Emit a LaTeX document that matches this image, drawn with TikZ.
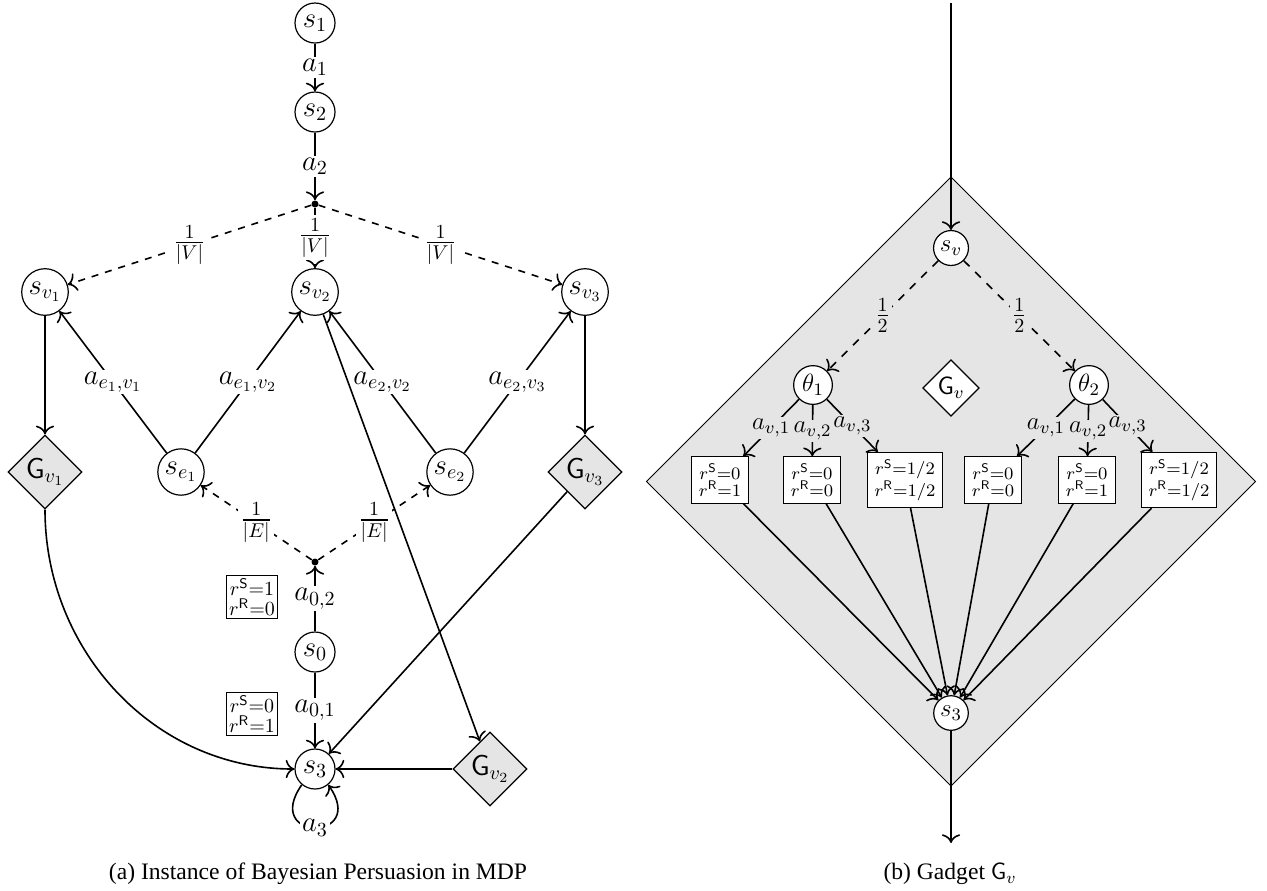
\RequirePackage{fix-cm}
\documentclass[tikz,border=0pt]{standalone}
\usepackage{amsmath}
\usepackage{fontspec}
\newfontfamily\capfont{Liberation Serif}
\usetikzlibrary{shapes.geometric,arrows.meta}
\tikzset{
  >={To[scale=1.3]},
  lst/.style={circle, draw, semithick, fill=white, inner sep=1.5pt, minimum size=20pt},
  rst/.style={circle, draw, semithick, fill=white, inner sep=1.5pt, minimum size=17pt},
  dotn/.style={circle, fill=black, inner sep=0pt, minimum size=3.5pt},
  gad/.style={diamond, aspect=1, draw, semithick, fill=gray!20, inner sep=1pt, minimum size=36pt},
  gsm/.style={diamond, aspect=1, draw, semithick, fill=white, inner sep=1pt, minimum size=24pt},
  lbox/.style={rectangle, draw, semithick, fill=white, inner sep=1.5pt},
  rbox/.style={rectangle, draw, semithick, fill=white, inner sep=3.5pt},
  le/.style={->, thick},
  re/.style={->, thick},
  ldash/.style={dash pattern=on 3.5pt off 3.5pt},
  rdash/.style={dash pattern=on 4pt off 4pt},
  lab/.style={fill=white, inner sep=1pt},
  rlab/.style={fill=gray!20, inner sep=1pt},
  capt/.style={font=\capfont\fontsize{11.8}{14}\selectfont, inner sep=0pt}
}
\begin{document}
\begin{tikzpicture}[x=0.5pt, y=-0.5pt]
\useasboundingbox (0,0) rectangle (1267,890);

% ---------------- (a) ----------------
\begin{scope}[font=\fontsize{14.4}{17}\selectfont]
\node[lst] (s1) at (315,23) {$s_1$};
\node[lst] (s2) at (315,112) {$s_2$};
\node[dotn] (d1) at (315,204) {};
\node[lst] (sv1) at (45,292) {$s_{v_1}$};
\node[lst] (sv2) at (315,292) {$s_{v_2}$};
\node[lst] (sv3) at (585,292) {$s_{v_3}$};
\node[lst] (se1) at (181,472) {$s_{e_1}$};
\node[lst] (se2) at (450,472) {$s_{e_2}$};
\node[gad] (G1) at (45,472) {$\mathsf{G}_{v_1}$};
\node[gad] (G3) at (585,472) {$\mathsf{G}_{v_3}$};
\node[dotn] (d2) at (315,562) {};
\node[lst] (s0) at (315,652) {$s_0$};
\node[lst] (s3) at (315,769) {$s_3$};
\node[gad] (G2) at (490,769) {$\mathsf{G}_{v_2}$};
\node[lbox] (b1) at (252,597) {$\substack{r^{\mathsf{S}}=1\\ r^{\mathsf{R}}=0}$};
\node[lbox] (b2) at (252,714) {$\substack{r^{\mathsf{S}}=0\\ r^{\mathsf{R}}=1}$};

\draw[le] (s1) -- node[lab]{$a_1$} (s2);
\draw[le] (s2) -- node[lab]{$a_2$} (d1);
\draw[le,ldash] (d1) -- node[lab]{$\frac{1}{|V|}$} (sv1);
\draw[le,ldash] (d1) -- node[lab]{$\frac{1}{|V|}$} (sv2);
\draw[le,ldash] (d1) -- node[lab]{$\frac{1}{|V|}$} (sv3);
\draw[le] (se1) -- node[lab]{$a_{e_1,v_1}$} (sv1);
\draw[le] (se1) -- node[lab]{$a_{e_1,v_2}$} (sv2);
\draw[le] (se2) -- node[lab]{$a_{e_2,v_2}$} (sv2);
\draw[le] (se2) -- node[lab]{$a_{e_2,v_3}$} (sv3);
\draw[le] (sv1) -- (G1);
\draw[le] (sv3) -- (G3);
\draw[le,ldash] (d2) -- node[lab]{$\frac{1}{|E|}$} (se1);
\draw[le,ldash] (d2) -- node[lab]{$\frac{1}{|E|}$} (se2);
\draw[le] (s0) -- node[lab]{$a_{0,2}$} (d2);
\draw[le] (s0) -- node[lab]{$a_{0,1}$} (s3);
\draw[le] (G1) to[out=-90,in=180] (s3);
\draw[le] (G3) -- (s3);
\draw[le] (G2) -- (s3);
\draw[le] (sv2) -- (G2);
\draw[le] (s3.-130) .. controls +(-125:35pt) and +(-55:35pt) .. node[lab]{$a_3$} (s3.-50);
\end{scope}

% ---------------- (b) ----------------
\fill[gray!20] (951,177) -- (1255.5,481.5) -- (951,786) -- (646.5,481.5) -- cycle;
\draw[line width=0.5pt] (951,177) -- (1255.5,481.5) -- (951,786) -- (646.5,481.5) -- cycle;
\begin{scope}[font=\fontsize{12.5}{15}\selectfont]
\coordinate (gin) at (951,3);
\coordinate (gout) at (951,843);
\node[rst] (sv) at (951,248) {$s_v$};
\node[rst] (t1) at (813,385) {$\theta_1$};
\node[rst] (t2) at (1089,385) {$\theta_2$};
\node[gsm] (Gv) at (951,388) {$\mathsf{G}_v$};
\node[rst] (g3) at (951,713) {$s_3$};
\node[rbox] (r1) at (720,480) {$\substack{r^{\mathsf{S}}=0\\ r^{\mathsf{R}}=1}$};
\node[rbox] (r2) at (812,480) {$\substack{r^{\mathsf{S}}=0\\ r^{\mathsf{R}}=0}$};
\node[rbox] (r3) at (905,480) {$\substack{r^{\mathsf{S}}=1/2\\ r^{\mathsf{R}}=1/2}$};
\node[rbox] (r4) at (993,480) {$\substack{r^{\mathsf{S}}=0\\ r^{\mathsf{R}}=0}$};
\node[rbox] (r5) at (1087,480) {$\substack{r^{\mathsf{S}}=0\\ r^{\mathsf{R}}=1}$};
\node[rbox] (r6) at (1179,480) {$\substack{r^{\mathsf{S}}=1/2\\ r^{\mathsf{R}}=1/2}$};

\draw[re] (gin) -- (sv);
\draw[re,rdash] (sv) -- node[rlab,font=\fontsize{14.4}{17}\selectfont]{$\frac12$} (t1);
\draw[re,rdash] (sv) -- node[rlab,font=\fontsize{14.4}{17}\selectfont]{$\frac12$} (t2);
\draw[re] (t1) -- node[rlab]{$a_{v,1}$} (r1);
\draw[re] (t1) -- node[rlab]{$a_{v,2}$} (r2);
\draw[re] (t1) -- node[rlab]{$a_{v,3}$} (r3);
\draw[re] (t2) -- node[rlab]{$a_{v,1}$} (r4);
\draw[re] (t2) -- node[rlab]{$a_{v,2}$} (r5);
\draw[re] (t2) -- node[rlab]{$a_{v,3}$} (r6);
\foreach \b in {r1,r2,r3,r4,r5,r6} \draw[re] (\b) -- (g3);
\draw[re] (g3) -- (gout);
\end{scope}

% captions
\node[capt] (capa) at (318,874) {(a) Instance of Bayesian Persuasion in MDP};
\node[capt] (capb) at (950,874) {(b) Gadget $\mathsf{G}_v$};
\end{tikzpicture}
\end{document}
